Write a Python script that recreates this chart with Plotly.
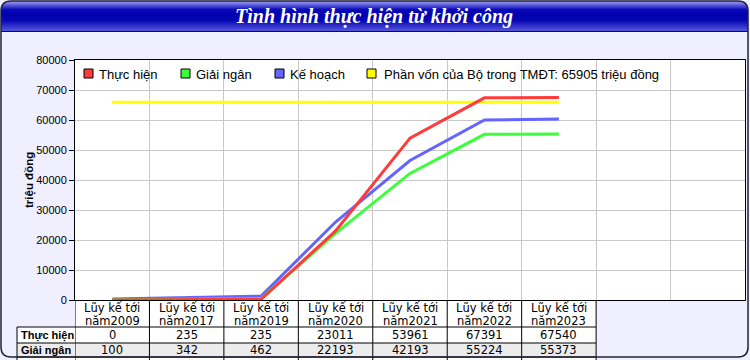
import math
import plotly.graph_objects as go

# ---------------- data ----------------
header_line1 = "Lũy kế tới"
years = ["năm2009", "năm2017", "năm2019", "năm2020", "năm2021", "năm2022", "năm2023"]
thuc_hien = [0, 235, 235, 23011, 53961, 67391, 67540]
giai_ngan = [100, 342, 462, 22193, 42193, 55224, 55373]
ke_hoach = [300, 800, 1300, 26000, 46500, 60000, 60300]
phan_von = 65905
series_names = ["Thực hiện", "Giải ngân", "Kế hoạch",
                "Phần vốn của Bộ trong TMĐT: 65905 triệu đồng"]
series_colors = ["#FF3C3C", "#3CFF3C", "#6464FF", "#FFFF00"]
table_rows = ["Thực hiện", "Giải ngân"]
y_ticks = [0, 10000, 20000, 30000, 40000, 50000, 60000, 70000, 80000]
title_text = "Tình hình thực hiện từ khởi công"
y_title = "triệu đồng"

W, H = 750, 360
L, R, T, B = 75, 5, 60, 60
PW, PH = W - L - R, H - T - B


def PX(px):
    return (px - L) / PW


def PY(py):
    return (H - B - py) / PH


x_idx = list(range(len(years)))
fig = go.Figure()

# lines (yellow first, red on top)
order = [3, 2, 1, 0]
values = [thuc_hien, giai_ngan, ke_hoach, [phan_von] * len(years)]
for k in order:
    fig.add_trace(go.Scatter(
        x=x_idx, y=values[k], mode="lines", name=series_names[k],
        line=dict(color=series_colors[k], width=3), hoverinfo="skip"))

shapes = []
annotations = []

# ---------- title bar gradient ----------
stops = [(1, (150, 150, 238)), (3, (120, 120, 230)), (9, (10, 10, 186)),
         (14, (0, 0, 172)), (20, (6, 6, 180)), (31, (88, 88, 222))]


def grad(py):
    for (a, ca), (b, cb) in zip(stops[:-1], stops[1:]):
        if a <= py <= b:
            t = (py - a) / (b - a)
            c = [round(ca[i] + (cb[i] - ca[i]) * t) for i in range(3)]
            return "rgb(%d,%d,%d)" % tuple(c)
    return "rgb(88,88,222)"


rad = 9
for py in range(1, 31):
    inset = 0
    if py < 1 + rad:
        dy = rad - (py - 1 + 0.5)
        inset = rad - math.sqrt(max(rad * rad - dy * dy, 0))
    shapes.append(dict(type="rect", xref="paper", yref="paper",
                       x0=PX(1 + inset), x1=PX(748 - inset),
                       y0=PY(py + 1), y1=PY(py),
                       fillcolor=grad(py), line=dict(width=0), layer="below"))
shapes.append(dict(type="line", xref="paper", yref="paper",
                   x0=PX(1), x1=PX(748), y0=PY(31.5), y1=PY(31.5),
                   line=dict(color="#101030", width=1)))

annotations.append(dict(text="<b><i>%s</i></b>" % title_text, xref="paper", yref="paper",
                        x=PX(374), y=PY(17), showarrow=False, xanchor="center", yanchor="middle",
                        font=dict(family="Liberation Serif, Times New Roman", size=20, color="white")))

# ---------- y axis title ----------
annotations.append(dict(text="<b>%s</b>" % y_title, xref="paper", yref="paper",
                        x=PX(29), y=PY(180), showarrow=False, textangle=-90,
                        xanchor="center", yanchor="middle",
                        font=dict(family="Liberation Sans, Arial", size=11.5, color="black")))

# ---------- legend (manual) ----------
sq_x = [84, 181, 275, 367]
tx_x = [97, 194, 288, 382]
for k in range(4):
    shapes.append(dict(type="rect", xref="paper", yref="paper",
                       x0=PX(sq_x[k]), x1=PX(sq_x[k] + 9), y0=PY(78), y1=PY(69),
                       fillcolor=series_colors[k], line=dict(color="black", width=1)))
    annotations.append(dict(text=series_names[k], xref="paper", yref="paper",
                            x=PX(tx_x[k]), y=PY(74), showarrow=False,
                            xanchor="left", yanchor="middle",
                            font=dict(family="Liberation Sans, Arial", size=13, color="black")))

# ---------- table ----------
n = len(years)
row_top = [327, 343, 357]
row_bot = [343, 357, 373]
row_bg = ["white", "#ECECEC", "white"]
shapes.append(dict(type="rect", xref="x", yref="paper", x0=-0.5, x1=n - 0.5,
                   y0=PY(327), y1=PY(300), fillcolor="white", line=dict(width=0), layer="below"))
for r in range(3):
    shapes.append(dict(type="rect", xref="x", yref="paper", x0=-0.5, x1=n - 0.5,
                       y0=PY(row_bot[r]), y1=PY(row_top[r]), fillcolor=row_bg[r],
                       line=dict(width=0), layer="below"))
    shapes.append(dict(type="rect", xref="paper", yref="paper", x0=PX(17), x1=0,
                       y0=PY(row_bot[r]), y1=PY(row_top[r]), fillcolor=row_bg[r],
                       line=dict(width=0), layer="below"))
for i in range(n + 1):
    shapes.append(dict(type="line", xref="x", yref="paper", x0=i - 0.5, x1=i - 0.5,
                       y0=PY(300), y1=PY(362), line=dict(color="black", width=1)))
shapes.append(dict(type="line", xref="paper", yref="paper", x0=PX(17), x1=PX(17),
                   y0=PY(327), y1=PY(362), line=dict(color="black", width=1)))
for yy in row_top:
    shapes.append(dict(type="line", xref="x", yref="paper", x0=-0.5, x1=n - 0.5,
                       y0=PY(yy), y1=PY(yy), line=dict(color="black", width=1)))
    shapes.append(dict(type="line", xref="paper", yref="paper", x0=PX(17), x1=0,
                       y0=PY(yy), y1=PY(yy), line=dict(color="black", width=1)))

tfont = dict(family="DejaVu Sans, Verdana", size=11.5, color="black")
for i in range(n):
    annotations.append(dict(text=header_line1, xref="x", yref="paper", x=i, y=PY(307.5),
                            showarrow=False, xanchor="center", yanchor="middle", font=tfont))
    annotations.append(dict(text=years[i], xref="x", yref="paper", x=i, y=PY(320.5),
                            showarrow=False, xanchor="center", yanchor="middle", font=tfont))
table_vals = [thuc_hien, giai_ngan]
for r in range(len(table_rows)):
    cy = (row_top[r] + row_bot[r]) / 2
    annotations.append(dict(text="<b>%s</b>" % table_rows[r], xref="paper", yref="paper",
                            x=PX(19), y=PY(cy), showarrow=False, xanchor="left", yanchor="middle",
                            font=dict(family="Liberation Sans, Arial", size=11, color="black")))
    for i in range(n):
        annotations.append(dict(text=str(table_vals[r][i]), xref="x", yref="paper", x=i, y=PY(cy),
                                showarrow=False, xanchor="center", yanchor="middle", font=tfont))

# ---------- outer rounded border ----------
x0b, y0b, x1b, y1b, rr = 1, 1, 748, 357, 10
path = ("M %f,%f L %f,%f Q %f,%f %f,%f L %f,%f Q %f,%f %f,%f L %f,%f Q %f,%f %f,%f "
        "L %f,%f Q %f,%f %f,%f Z") % (
    PX(x0b + rr), PY(y0b), PX(x1b - rr), PY(y0b), PX(x1b), PY(y0b), PX(x1b), PY(y0b + rr),
    PX(x1b), PY(y1b - rr), PX(x1b), PY(y1b), PX(x1b - rr), PY(y1b),
    PX(x0b + rr), PY(y1b), PX(x0b), PY(y1b), PX(x0b), PY(y1b - rr),
    PX(x0b), PY(y0b + rr), PX(x0b), PY(y0b), PX(x0b + rr), PY(y0b))
shapes.append(dict(type="path", xref="paper", yref="paper", path=path,
                   line=dict(color="#22223a", width=1.5)))

fig.update_layout(
    width=W, height=H, margin=dict(l=L, r=R, t=T, b=B, autoexpand=False),
    paper_bgcolor="#EFEFFF", plot_bgcolor="white", showlegend=False,
    xaxis=dict(range=[-0.5, 8.5], tickvals=[i + 0.5 for i in range(8)], showticklabels=False,
               ticks="", showgrid=True, gridcolor="#C8C8C8", gridwidth=1, showline=True,
               linecolor="black", linewidth=1, mirror=True, zeroline=False, fixedrange=True),
    yaxis=dict(range=[0, 80000], tickvals=y_ticks, tickformat="d", ticks="outside", ticklen=5,
               tickcolor="black", tickfont=dict(family="Liberation Sans, Arial", size=11, color="black"),
               showgrid=True, gridcolor="#C8C8C8", gridwidth=1, showline=True, linecolor="black",
               linewidth=1, mirror=True, zeroline=False, fixedrange=True),
    shapes=shapes, annotations=annotations,
)

fig.write_html("out.html", config={"displayModeBar": False})
